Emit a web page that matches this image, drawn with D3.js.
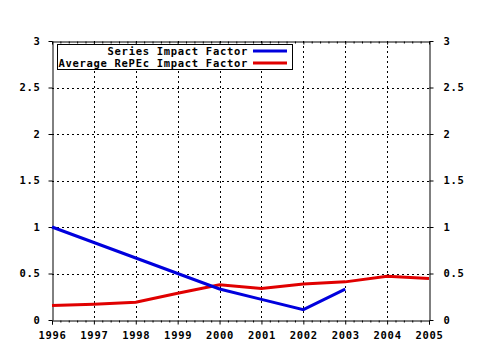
<!DOCTYPE html>
<html>
<head>
<meta charset="utf-8">
<script src="https://cdn.jsdelivr.net/npm/d3@7"></script>
<style>
  body { margin: 0; background: #fff; }
  text { font-family: "DejaVu Sans Mono", monospace; font-weight: bold; font-size: 10.5px; letter-spacing: 0.7px; fill: #000; }
</style>
</head>
<body>
<div id="chart"></div>
<script>
var width = 480, height = 350;
var margin = { top: 41, right: 51, bottom: 30, left: 52 };

var years = [1996, 1997, 1998, 1999, 2000, 2001, 2002, 2003, 2004, 2005];
var seriesIF = [1.0, 0.833, 0.667, 0.5, 0.333, 0.222, 0.111, 0.333];
var avgRepec = [0.157, 0.17, 0.19, 0.287, 0.38, 0.34, 0.387, 0.41, 0.47, 0.445];
var yTicks = [0, 0.5, 1, 1.5, 2, 2.5, 3];
var yTickLabels = ["0", "0.5", "1", "1.5", "2", "2.5", "3"];
var legendNames = ["Series Impact Factor", "Average RePEc Impact Factor"];
var colors = ["#0000dd", "#e00000"];

var svg = d3.select("#chart").append("svg")
  .attr("width", width)
  .attr("height", height);

var x = d3.scaleLinear()
  .domain([1996, 2005])
  .range([margin.left, width - margin.right]);

var y = d3.scaleLinear()
  .domain([0, 3])
  .range([height - margin.bottom, margin.top]);

// minor tick positions (5 subdivisions per year)
var minor = [];
for (var i = 0; i < years.length - 1; i++) {
  for (var k = 1; k < 5; k++) minor.push(years[i] + k / 5);
}

// grid
svg.append("g")
  .selectAll("line")
  .data(years.slice(1, -1))
  .enter().append("line")
    .attr("x1", function(d) { return Math.round(x(d)) + 0.5; })
    .attr("x2", function(d) { return Math.round(x(d)) + 0.5; })
    .attr("y1", y(3))
    .attr("y2", y(0))
    .attr("stroke", "#000")
    .attr("stroke-dasharray", "2,3");

svg.append("g")
  .selectAll("line")
  .data(yTicks.slice(1, -1))
  .enter().append("line")
    .attr("x1", x(1996))
    .attr("x2", x(2005))
    .attr("y1", function(d) { return Math.round(y(d)) + 0.5; })
    .attr("y2", function(d) { return Math.round(y(d)) + 0.5; })
    .attr("stroke", "#000")
    .attr("stroke-dasharray", "2,3");

// bottom axis
svg.append("g")
  .attr("transform", "translate(0," + (y(0) + 0.5) + ")")
  .call(d3.axisBottom(x).tickValues(years).tickFormat(d3.format("d")).tickSize(4).tickPadding(7));
svg.append("g")
  .attr("transform", "translate(0," + (y(0) + 0.5) + ")")
  .call(d3.axisBottom(x).tickValues(minor).tickFormat("").tickSize(2))
  .select(".domain").remove();

// top axis (frame)
svg.append("g")
  .attr("transform", "translate(0," + (y(3) + 0.5) + ")")
  .call(d3.axisBottom(x).tickValues(years).tickFormat("").tickSize(3).tickSizeOuter(0));
svg.append("g")
  .attr("transform", "translate(0," + (y(3) + 0.5) + ")")
  .call(d3.axisBottom(x).tickValues(minor).tickFormat("").tickSize(2))
  .select(".domain").remove();

// left axis
svg.append("g")
  .attr("transform", "translate(" + (x(1996) + 0.5) + ",0)")
  .call(d3.axisLeft(y).tickValues(yTicks).tickFormat(function(d, i) { return yTickLabels[i]; }).tickSize(4).tickSizeOuter(0).tickPadding(8));

// right axis
svg.append("g")
  .attr("transform", "translate(" + (x(2005) + 0.5) + ",0)")
  .call(d3.axisRight(y).tickValues(yTicks).tickFormat(function(d, i) { return yTickLabels[i]; }).tickSize(4).tickSizeOuter(0).tickPadding(10));

svg.selectAll(".tick text")
  .style("font-family", "'DejaVu Sans Mono', monospace")
  .style("font-weight", "bold")
  .style("font-size", "10.5px")
  .attr("fill", "#000");
svg.selectAll(".domain, .tick line").attr("stroke", "#000");

// lines
var line = d3.line()
  .x(function(d, i) { return x(years[i]); })
  .y(function(d) { return y(d); });

svg.append("path")
  .datum(avgRepec)
  .attr("d", line)
  .attr("fill", "none")
  .attr("stroke", colors[1])
  .attr("stroke-width", 3);

svg.append("path")
  .datum(seriesIF)
  .attr("d", line)
  .attr("fill", "none")
  .attr("stroke", colors[0])
  .attr("stroke-width", 3);

// legend
var legend = svg.append("g");
legend.append("rect")
  .attr("x", 57.5)
  .attr("y", 44.5)
  .attr("width", 235)
  .attr("height", 25)
  .attr("fill", "#fff")
  .attr("stroke", "#000");

legendNames.forEach(function(name, i) {
  var ly = 51 + i * 12;
  legend.append("text")
    .attr("x", 248)
    .attr("y", ly)
    .attr("dy", "0.35em")
    .attr("text-anchor", "end")
    .text(name);
  legend.append("line")
    .attr("x1", 253)
    .attr("x2", 287)
    .attr("y1", ly)
    .attr("y2", ly)
    .attr("stroke", colors[i])
    .attr("stroke-width", 3);
});
</script>
</body>
</html>
